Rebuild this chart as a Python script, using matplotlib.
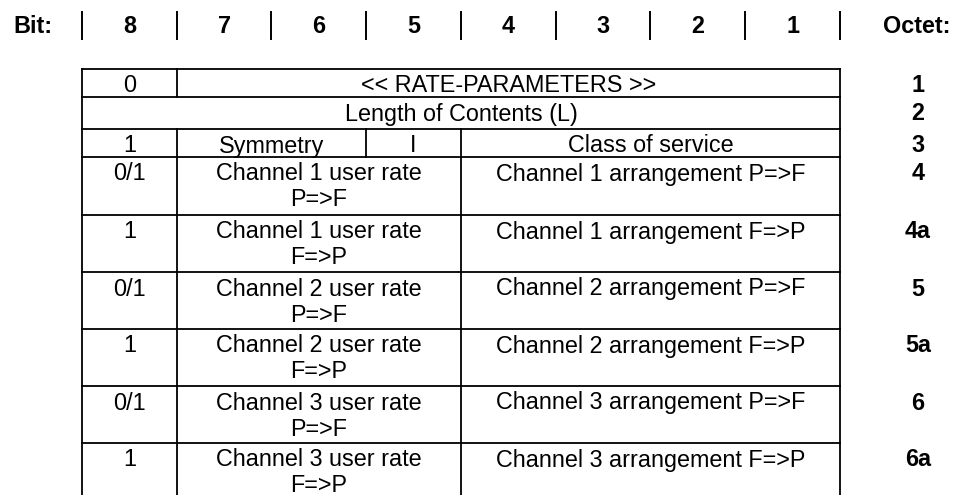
import matplotlib
matplotlib.use('Agg')
import matplotlib.pyplot as plt

# header
bit_labels = ['8', '7', '6', '5', '4', '3', '2', '1']
octet_labels = ['1', '2', '3', '4', '4a', '5', '5a', '6', '6a']

# each row: list of (first bit col, last bit col, text); cols counted 0..7 from bit 8
rows = [
    [(0, 0, '0'), (1, 7, '<< RATE-PARAMETERS >>')],
    [(0, 7, 'Length of Contents (L)')],
    [(0, 0, '1'), (1, 2, 'Symmetry'), (3, 3, 'I'), (4, 7, 'Class of service')],
    [(0, 0, '0/1'), (1, 3, 'Channel 1 user rate\nP=>F'), (4, 7, 'Channel 1 arrangement P=>F')],
    [(0, 0, '1'), (1, 3, 'Channel 1 user rate\nF=>P'), (4, 7, 'Channel 1 arrangement F=>P')],
    [(0, 0, '0/1'), (1, 3, 'Channel 2 user rate\nP=>F'), (4, 7, 'Channel 2 arrangement P=>F')],
    [(0, 0, '1'), (1, 3, 'Channel 2 user rate\nF=>P'), (4, 7, 'Channel 2 arrangement F=>P')],
    [(0, 0, '0/1'), (1, 3, 'Channel 3 user rate\nP=>F'), (4, 7, 'Channel 3 arrangement P=>F')],
    [(0, 0, '1'), (1, 3, 'Channel 3 user rate\nF=>P'), (4, 7, 'Channel 3 arrangement F=>P')],
]
row_heights = [28, 32, 28, 58, 57, 57, 57, 57, 57]

left, right = 82, 840
bw = (right - left) / 8
top = 69
fs = 16.8
font = 'Liberation Sans'
base = 23.5   # first baseline below the row's top line
lstep = 26    # line step inside a cell

fig = plt.figure(figsize=(9.58, 4.95), dpi=100)
ax = fig.add_axes([0, 0, 1, 1])
ax.set_xlim(0, 958)
ax.set_ylim(495, 0)
ax.axis('off')

# header line
ax.text(13, 33, 'Bit:', fontsize=fs, fontweight='bold', family=font, va='baseline', ha='left')
for i in range(9):
    ax.plot([left + i * bw] * 2, [12, 39], color='black', lw=1.4)
for i, b in enumerate(bit_labels):
    ax.text(left + (i + 0.5) * bw, 33, b, fontsize=fs, fontweight='bold', family=font,
            va='baseline', ha='center')
ax.text(917, 33, 'Octet:', fontsize=fs, fontweight='bold', family=font, va='baseline', ha='center')

# table
y = top
ax.plot([left, right], [y, y], color='black', lw=1.3)
for r, (cells, h) in enumerate(zip(rows, row_heights)):
    for c0, c1, txt in cells:
        x0 = left + c0 * bw
        x1 = left + (c1 + 1) * bw
        ax.plot([x0, x0], [y, y + h], color='black', lw=1.3)
        for k, line in enumerate(txt.split('\n')):
            ax.text((x0 + x1) / 2, y + base + k * lstep, line, fontsize=fs, family=font,
                    va='baseline', ha='center')
    ax.plot([right, right], [y, y + h], color='black', lw=1.3)
    ax.text(918, y + base, octet_labels[r], fontsize=fs, fontweight='bold', family=font,
            va='baseline', ha='center')
    y += h
    ax.plot([left, right], [y, y], color='black', lw=1.3)

fig.savefig('out.png', dpi=100)
